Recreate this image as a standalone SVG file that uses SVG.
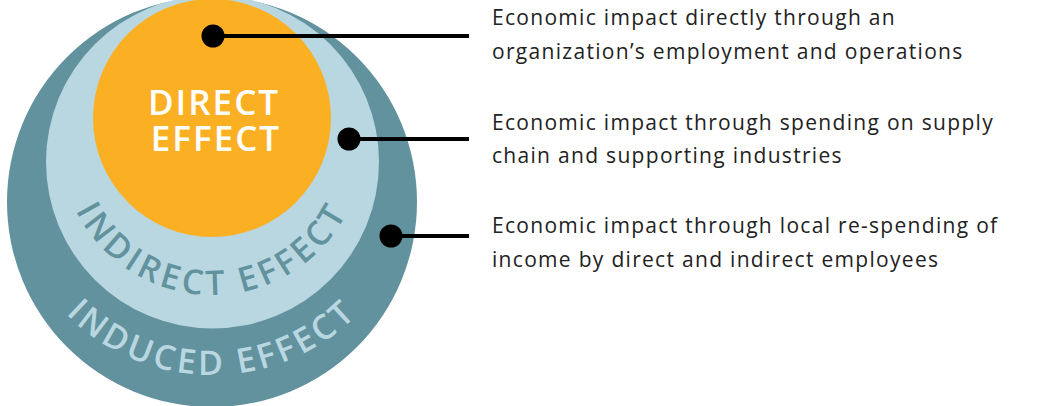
<svg xmlns="http://www.w3.org/2000/svg" width="1046" height="406" viewBox="0 0 1046 406">
  <style>
    .ring-label { font-family: "Open Sans", "Noto Sans", sans-serif; font-weight: 600; font-size: 34px; }
    .core-label { font-family: "Open Sans", "Noto Sans", sans-serif; font-weight: 600; font-size: 35px; fill: #ffffff; letter-spacing: 2px; }
    .desc { font-family: "Open Sans", "Noto Sans", sans-serif; font-size: 21px; fill: #222222; letter-spacing: 1.3px; }
    .leader { stroke: #000000; stroke-width: 4; fill: none; }
    .dot { fill: #000000; }
  </style>
  <defs>
    <!-- baselines for the curved ring labels, running left to right under the centre -->
    <path id="arc-induced" d="M 7,170 A 205 205 0 0 0 417,170"/>
    <path id="arc-indirect" d="M 60,143 A 152 152 0 0 0 364,143"/>
  </defs>

  <g id="induced">
    <circle cx="212" cy="202" r="205" fill="#62929E"/>
    <text class="ring-label" fill="#B9D7E1" letter-spacing="3.5">
      <textPath href="#arc-induced" startOffset="50%" text-anchor="middle">INDUCED EFFECT</textPath>
    </text>
  </g>

  <g id="indirect">
    <circle cx="212.5" cy="162" r="166.5" fill="#B9D7E1"/>
    <text class="ring-label" fill="#62929E" letter-spacing="4">
      <textPath href="#arc-indirect" startOffset="50%" text-anchor="middle">INDIRECT EFFECT</textPath>
    </text>
  </g>

  <g id="direct">
    <circle cx="212" cy="118" r="119" fill="#FBB024"/>
    <text class="core-label" x="214" y="114.5" text-anchor="middle">DIRECT</text>
    <text class="core-label" x="216" y="151" text-anchor="middle">EFFECT</text>
  </g>

  <g id="connectors">
    <line class="leader" x1="213" y1="36" x2="469" y2="36"/>
    <circle class="dot" cx="213" cy="36" r="11.5"/>
    <line class="leader" x1="349" y1="139" x2="469" y2="139"/>
    <circle class="dot" cx="349" cy="139" r="11.5"/>
    <line class="leader" x1="391" y1="236" x2="469" y2="236"/>
    <circle class="dot" cx="391" cy="236" r="11.5"/>
  </g>

  <g id="descriptions">
    <text class="desc" x="492" y="25">Economic impact directly through an</text>
    <text class="desc" x="492" y="59">organization’s employment and operations</text>
    <text class="desc" x="492" y="130">Economic impact through spending on supply</text>
    <text class="desc" x="492" y="163">chain and supporting industries</text>
    <text class="desc" x="492" y="233">Economic impact through local re-spending of</text>
    <text class="desc" x="492" y="267">income by direct and indirect employees</text>
  </g>
</svg>
